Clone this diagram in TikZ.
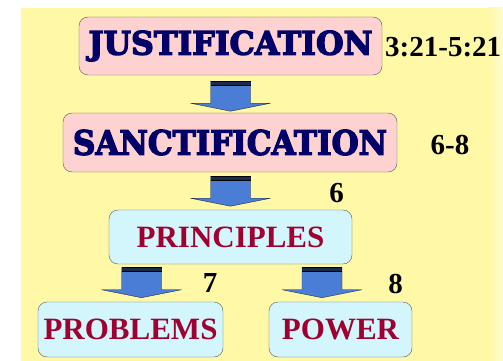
\documentclass[tikz,border=0pt]{standalone}
\usepackage{graphicx}
\usepackage{fontspec}
\setmainfont{Liberation Serif}
\newfontfamily\heavyfont{DejaVu Serif Bold}[FakeBold=4]
\usetikzlibrary{calc,positioning}
\definecolor{slideyellow}{HTML}{FFF8A6}
\definecolor{pinkbox}{HTML}{FFD2D2}
\definecolor{cyanbox}{HTML}{D2F6FB}
\definecolor{navytext}{HTML}{000068}
\definecolor{redtext}{HTML}{A00030}
\definecolor{arrowblue}{HTML}{4A7ED6}
\newcommand{\heavy}[3]{\resizebox{#1}{#2}{\heavyfont #3}}
\newcommand{\blockarrow}[1]{%
  \draw[arrowbody,shift={(#1)}] (-20,0) -- (20,0) -- (20,22) -- (40,22) -- (0,30) -- (-40,22) -- (-20,22) -- cycle;
  \fill[arrowblue!35!black,shift={(#1)}] (-20,0) rectangle (20,4);
  \draw[black,line width=0.7pt,shift={(#1)}] (-20,0) -- (20,0) (-20,4) -- (20,4);}

\begin{document}
\begin{tikzpicture}[x=1pt,y=-1pt,
    upper/.style={draw=black!65,fill=pinkbox,rounded corners=9pt,inner sep=0pt,text=navytext},
    lower/.style={draw=black!65,fill=cyanbox,rounded corners=9pt,inner sep=0pt,text=redtext,
        font=\fontsize{31}{31}\selectfont\bfseries},
    verse/.style={font=\fontsize{29}{29}\selectfont\bfseries,inner sep=0pt},
    arrowbody/.style={fill=arrowblue,draw=black!80,line width=0.4pt}]
    \useasboundingbox (0,0) rectangle (503,361);
    \fill[white] (0,0) rectangle (503,361);
    \fill[slideyellow] (21,8) rectangle (488,361);
    \shade[left color=slideyellow,right color=slideyellow!55!white] (488,8) rectangle (503,361);
    % boxes
    \node[upper,minimum width=303pt,minimum height=58pt] (just) at (230.5,46) {\heavy{284pt}{24pt}{JUSTIFICATION}};
    \node[upper,minimum width=334pt,minimum height=59pt] (sanct) at (230,142.5) {\heavy{314pt}{25pt}{SANCTIFICATION}};
    \node[lower,minimum width=243pt,minimum height=54pt] (princ) at (230.5,237) {PRINCIPLES};
    \node[lower,minimum width=185pt,minimum height=55pt] (probl) at (130.5,329.5) {PROBLEMS};
    \node[lower,minimum width=143pt,minimum height=55pt] (power) at (340.5,329.5) {POWER};
    % chapter numbers
    \node[verse,anchor=west] (ref1) at (385,47) {3:21-5:21};
    \node[verse] (ref2) at (450,145) {6-8};
    \node[verse] (ref3) at (336.5,193.5) {6};
    \node[verse] (ref4) at (210,283.5) {7};
    \node[verse] (ref5) at (395.5,283.5) {8};
    % arrows
    \coordinate (a1) at ($(just.south)+(0,6)$);
    \coordinate (a2) at ($(sanct.south)+(0.5,4)$);
    \coordinate (a3) at ($(princ.south)+(-89,3.5)$);
    \coordinate (a4) at ($(princ.south)+(91.5,3.5)$);
    \blockarrow{a1}
    \blockarrow{a2}
    \blockarrow{a3}
    \blockarrow{a4}
\end{tikzpicture}
\end{document}
